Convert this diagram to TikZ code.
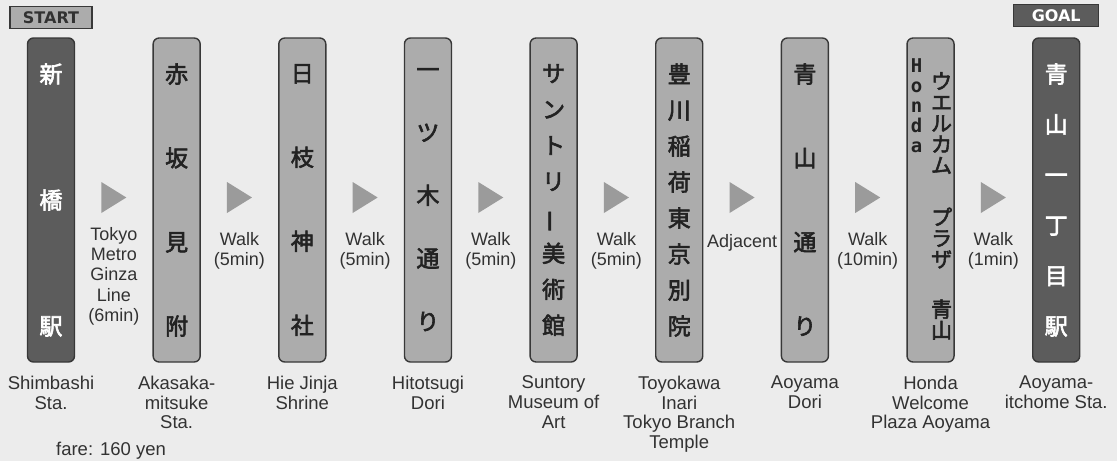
\documentclass[tikz,border=0pt]{standalone}
\usepackage{fontspec}
\setmainfont{Liberation Sans}
\newfontfamily\jpfont[FakeBold=2.6]{Noto Sans CJK JP}
\newfontfamily\badgefont{DejaVu Sans}
\newfontfamily\hondafont{DejaVu Sans Mono}
\usepackage{graphicx}
\usepackage{tikz}
\usetikzlibrary{positioning,calc}
\definecolor{rtbg}{RGB}{236,236,236}
\definecolor{rtdark}{RGB}{92,92,92}
\definecolor{rtlight}{RGB}{172,172,172}
\definecolor{rtedge}{RGB}{56,56,56}
\definecolor{rttri}{RGB}{155,155,155}
\definecolor{rttext}{RGB}{50,50,50}
\definecolor{rtink}{RGB}{34,34,34}
\tikzstyle{pillar} = [rectangle, rounded corners=6pt, minimum width=47pt, minimum height=324pt, draw=rtedge, line width=1.4pt, fill=rtlight, inner sep=0pt]
\tikzstyle{station} = [pillar, fill=rtdark]
\tikzstyle{tri} = [fill=rttri]
\tikzstyle{place} = [align=center, inner sep=0pt, text=rttext, font=\fontsize{18.5}{19.7}\selectfont]
\tikzstyle{move} = [align=center, inner sep=0pt, anchor=north, text=rttext, font=\fontsize{18}{20.3}\selectfont]
\tikzstyle{badge} = [rectangle, minimum width=82pt, minimum height=22pt, draw=rtedge, line width=1.2pt, inner sep=0pt, font=\badgefont\bfseries\fontsize{16}{16}\selectfont]
\tikzset{jp/.style={align=center, inner sep=0pt, text=rtink, font=\jpfont\fontsize{23}{#1}\selectfont,
  execute at begin node=\vphantom{国}, execute at end node=\vphantom{国}}}

\begin{document}
\begin{tikzpicture}[x=1pt, y=-1pt]
\fill[rtbg] (0,0) rectangle (1117,461);
\useasboundingbox (0,0) rectangle (1117,461);

% Pillars
\node[station] (shimbashi) at (51,200) {};
\node[pillar, right=77.25pt of shimbashi] (akasaka) {};
\node[pillar, right=77.25pt of akasaka] (hie) {};
\node[pillar, right=77.25pt of hie] (hitotsugi) {};
\node[pillar, right=77.25pt of hitotsugi] (suntory) {};
\node[pillar, right=77.25pt of suntory] (toyokawa) {};
\node[pillar, right=77.25pt of toyokawa] (aoyamadori) {};
\node[pillar, right=77.25pt of aoyamadori] (honda) {};
\node[station, right=77.25pt of honda] (itchome) {};

% START / GOAL
\node[badge, fill=rtlight, text=rttext, above=8pt of shimbashi] (start) {START};
\node[badge, fill=rtdark, text=white, minimum width=85pt, above=10pt of itchome] (goal) {GOAL};

% Names on the pillars
\node[jp=126, text=white] (shimbashi-jp) at (shimbashi) {新\\橋\\駅};
\node[jp=84] (akasaka-jp) at (akasaka) {赤\\坂\\見\\附};
\node[jp=84] (hie-jp) at (hie) {日\\枝\\神\\社};
\node[jp=63] (hitotsugi-jp) at (hitotsugi) {一\\ツ\\木\\通\\り};
\node[jp=36] (suntory-jp) at (suntory) {サ\\ン\\ト\\リ\\\rotatebox[origin=c]{90}{ー}\\美\\術\\館};
\node[jp=36] (toyokawa-jp) at (toyokawa) {豊\\川\\稲\\荷\\東\\京\\別\\院};
\node[jp=84] (aoyamadori-jp) at (aoyamadori) {青\\山\\通\\り};
\node[jp=21, font=\jpfont\fontsize{21}{21}\selectfont] (honda-jp) at ($(honda)+(11,6)$) {ウ\\エ\\ル\\カ\\ム\\[31pt]プ\\ラ\\ザ\\[29pt]青\\山};
\node[anchor=north, align=center, inner sep=0pt, text=rtink, font=\hondafont\bfseries\fontsize{19}{20}\selectfont] (honda-en) at ($(honda)+(-14,-142)$) {H\\o\\n\\d\\a};
\node[jp=50.4, text=white] (itchome-jp) at (itchome) {青\\山\\一\\丁\\目\\駅};

% Place names
\node[place, below=13pt of shimbashi] (shimbashi-en) {Shimbashi\\Sta.};
\node[place, below=13pt of akasaka] (akasaka-en) {Akasaka-\\mitsuke\\Sta.};
\node[place, below=13pt of hie] (hie-en) {Hie Jinja\\Shrine};
\node[place, below=13pt of hitotsugi] (hitotsugi-en) {Hitotsugi\\Dori};
\node[place, below=13pt of suntory] (suntory-en) {Suntory\\Museum of\\Art};
\node[place, below=13pt of toyokawa] (toyokawa-en) {Toyokawa\\Inari\\Tokyo Branch\\Temple};
\node[place, below=13pt of aoyamadori] (aoyamadori-en) {Aoyama\\Dori};
\node[place, below=13pt of honda] (honda-en2) {Honda\\Welcome\\Plaza Aoyama};
\node[place, below=13pt of itchome] (itchome-en) {Aoyama-\\itchome Sta.};
\node[place, anchor=north] (fare) at (111,442) {fare: 160 yen};

% Arrows between pillars
\foreach \a/\b [count=\i] in {shimbashi/akasaka, akasaka/hie, hie/hitotsugi, hitotsugi/suntory, suntory/toyokawa, toyokawa/aoyamadori, aoyamadori/honda, honda/itchome}
{
  \coordinate (g\i) at ($(\a.east)!0.5!(\b.west)$);
  \fill[tri] ($(g\i)+(-12.5,-18)$) -- ($(g\i)+(12.5,-2.5)$) -- ($(g\i)+(-12.5,13)$) -- cycle;
}

% Ways of moving
\node[move] (m1) at ($(g1)+(0,27)$) {Tokyo\\Metro\\Ginza\\Line\\(6min)};
\node[move] (m2) at ($(g2)+(0,32)$) {Walk\\(5min)};
\node[move] (m3) at ($(g3)+(0,32)$) {Walk\\(5min)};
\node[move] (m4) at ($(g4)+(0,32)$) {Walk\\(5min)};
\node[move] (m5) at ($(g5)+(0,32)$) {Walk\\(5min)};
\node[move] (m6) at ($(g6)+(0,34)$) {Adjacent};
\node[move] (m7) at ($(g7)+(0,32)$) {Walk\\(10min)};
\node[move] (m8) at ($(g8)+(0,32)$) {Walk\\(1min)};
\end{tikzpicture}
\end{document}
